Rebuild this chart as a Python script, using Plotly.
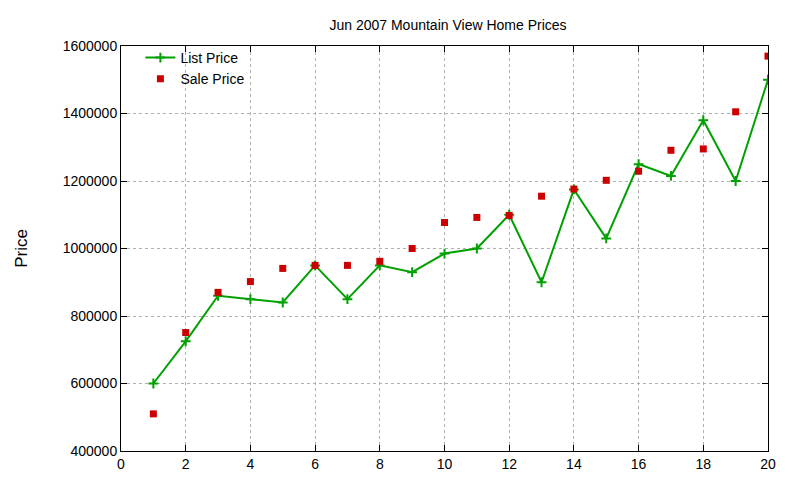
import plotly.graph_objects as go

x = list(range(1, 21))
list_price = [600000, 725000, 860000, 850000, 840000, 950000, 850000, 950000, 930000, 985000,
              1000000, 1100000, 900000, 1175000, 1030000, 1250000, 1215000, 1380000, 1200000, 1500000]
sale_price = [510000, 751000, 870000, 902000, 941000, 950000, 950000, 962000, 1000000, 1077000,
              1092000, 1098000, 1155000, 1176000, 1202000, 1229000, 1291000, 1295000, 1405000, 1570000]

fig = go.Figure()
fig.add_trace(go.Scatter(x=x, y=list_price, mode="lines+markers", name="List Price",
                         line=dict(color="#00a000", width=2),
                         marker=dict(symbol="cross-thin", size=7, line=dict(color="#00a000", width=2))))
fig.add_trace(go.Scatter(x=x, y=sale_price, mode="markers", name="Sale Price",
                         marker=dict(symbol="square", size=7, color="#cc0000")))

ax = dict(showline=True, mirror="ticks", linecolor="black", linewidth=1, ticks="inside",
          ticklen=6, tickcolor="black", showgrid=True, gridcolor="#b0b0b0", griddash="dot",
          gridwidth=1, zeroline=False)
fig.update_xaxes(range=[0, 20], dtick=2, **ax)
fig.update_yaxes(range=[400000, 1600000], dtick=200000, tickformat="d",
                 title=dict(text="Price", standoff=30), **ax)
fig.update_layout(
    width=800, height=480, plot_bgcolor="white", paper_bgcolor="white",
    margin=dict(l=113, r=40, t=38, b=37),
    font=dict(family="Liberation Sans, Arial", size=14, color="black"),
    title=dict(text="Jun 2007 Mountain View Home Prices", x=0.55, xanchor="center", y=0.975,
               font=dict(size=14)),
    legend=dict(x=0.03, y=1.01, xanchor="left", yanchor="top", bgcolor="rgba(0,0,0,0)",
                font=dict(size=14), tracegroupgap=0),
    showlegend=True,
)
fig.write_html("out.html")
